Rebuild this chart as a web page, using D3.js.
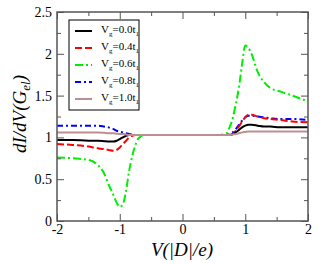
<!DOCTYPE html>
<html lang="en">
<head>
<meta charset="UTF-8">
<title>dI/dV</title>
<script src="https://cdn.jsdelivr.net/npm/d3@7"></script>
<style>
  body { margin: 0; background: #fff; }
  text { font-family: "Liberation Serif", "Times New Roman", serif; }
</style>
</head>
<body>
<script>
// bias voltage grid, in |D|/e
var xs = [-2, -1.75, -1.5, -1.35, -1.25, -1.18, -1.1, -1.05, -1.0, -0.95, -0.9, -0.85, -0.8, -0.75, -0.7, -0.6, -0.4, 0,
          0.4, 0.6, 0.7, 0.75, 0.8, 0.85, 0.9, 0.95, 1.0, 1.05, 1.1, 1.2, 1.3, 1.4, 1.55, 1.75, 2.0];

var vg00 = [0.97, 0.97, 0.96, 0.96, 0.955, 0.95, 0.95, 0.96, 0.98, 1.0, 1.02, 1.03, 1.03, 1.03, 1.03, 1.03, 1.03, 1.03,
            1.03, 1.03, 1.03, 1.03, 1.04, 1.06, 1.09, 1.12, 1.14, 1.15, 1.15, 1.14, 1.13, 1.13, 1.12, 1.12, 1.12];
var vg04 = [0.92, 0.91, 0.89, 0.87, 0.86, 0.85, 0.84, 0.85, 0.88, 0.92, 0.96, 1.0, 1.02, 1.03, 1.03, 1.03, 1.03, 1.03,
            1.03, 1.03, 1.03, 1.03, 1.04, 1.08, 1.13, 1.19, 1.24, 1.27, 1.27, 1.25, 1.23, 1.22, 1.21, 1.19, 1.18];
var vg06 = [0.76, 0.75, 0.73, 0.67, 0.57, 0.44, 0.31, 0.22, 0.17, 0.20, 0.36, 0.60, 0.78, 0.91, 0.99, 1.03, 1.03, 1.03,
            1.03, 1.03, 1.05, 1.12, 1.23, 1.40, 1.60, 1.88, 2.10, 2.07, 2.00, 1.78, 1.66, 1.59, 1.55, 1.50, 1.43];
var vg08 = [1.14, 1.14, 1.14, 1.14, 1.13, 1.12, 1.10, 1.08, 1.07, 1.06, 1.05, 1.04, 1.035, 1.03, 1.03, 1.03, 1.03, 1.03,
            1.03, 1.03, 1.03, 1.04, 1.06, 1.10, 1.15, 1.20, 1.24, 1.26, 1.26, 1.25, 1.24, 1.23, 1.22, 1.22, 1.21];
var vg10 = [1.06, 1.06, 1.06, 1.06, 1.055, 1.05, 1.05, 1.045, 1.04, 1.04, 1.035, 1.03, 1.03, 1.03, 1.03, 1.03, 1.03, 1.03,
            1.03, 1.03, 1.03, 1.03, 1.035, 1.04, 1.05, 1.06, 1.065, 1.07, 1.07, 1.07, 1.07, 1.07, 1.07, 1.07, 1.07];

var labels = ["0.0", "0.4", "0.6", "0.8", "1.0"];
var xTicks = [-2, -1, 0, 1, 2];
var yTicks = [0, 0.5, 1, 1.5, 2, 2.5];

var series = [
  { lab: labels[0], v: vg00, color: "#000000", dash: null },
  { lab: labels[1], v: vg04, color: "#ff0000", dash: "7,3" },
  { lab: labels[2], v: vg06, color: "#00ee00", dash: "8,3,2,3" },
  { lab: labels[3], v: vg08, color: "#0000ff", dash: "6,3,2,3" },
  { lab: labels[4], v: vg10, color: "#bc8f8f", dash: null }
];

var width = 324, height = 264;
var mLeft = 57, mRight = 308, mTop = 12, mBottom = 221;

var svg = d3.select("body").append("svg")
  .attr("width", width)
  .attr("height", height);

var x = d3.scaleLinear().domain([-2, 2]).range([mLeft, mRight]);
var y = d3.scaleLinear().domain([0, 2.5]).range([mBottom, mTop]);

// data lines (drawn first so the frame sits over them)
var line = d3.line()
  .x(function(d) { return x(d[0]); })
  .y(function(d) { return y(d[1]); })
  .curve(d3.curveMonotoneX);

var order = [2, 3, 1, 0, 4];
order.forEach(function(i) {
  var s = series[i];
  svg.append("path")
    .datum(xs.map(function(t, k) { return [t, s.v[k]]; }))
    .attr("d", line)
    .attr("fill", "none")
    .attr("stroke", s.color)
    .attr("stroke-width", 2)
    .attr("stroke-dasharray", s.dash);
});

// axes with inward ticks on all four sides
var axisColor = "#555";
function styleAxis(g) {
  g.select(".domain").remove();
  g.selectAll("line").attr("stroke", axisColor).attr("stroke-width", 1);
  g.selectAll("text").attr("fill", "#000").attr("font-size", 14)
    .attr("font-family", "Liberation Serif, serif");
}
var plain = function(d) { return String(d); };   // keeps the ascii hyphen

var xMinor = [-1.5, -0.5, 0.5, 1.5];
var yMinor = [0.25, 0.75, 1.25, 1.75, 2.25];

svg.append("g").attr("transform", "translate(0," + mBottom + ")")
  .call(d3.axisBottom(x).tickValues(xTicks).tickSize(-7).tickPadding(3).tickFormat(plain))
  .call(styleAxis);
svg.append("g").attr("transform", "translate(0," + mBottom + ")")
  .call(d3.axisBottom(x).tickValues(xMinor).tickSize(-4).tickFormat(""))
  .call(styleAxis);
svg.append("g").attr("transform", "translate(0," + mTop + ")")
  .call(d3.axisTop(x).tickValues(xTicks).tickSize(-7).tickFormat(""))
  .call(styleAxis);
svg.append("g").attr("transform", "translate(0," + mTop + ")")
  .call(d3.axisTop(x).tickValues(xMinor).tickSize(-4).tickFormat(""))
  .call(styleAxis);

svg.append("g").attr("transform", "translate(" + mLeft + ",0)")
  .call(d3.axisLeft(y).tickValues(yTicks).tickSize(-7).tickPadding(5).tickFormat(plain))
  .call(styleAxis);
svg.append("g").attr("transform", "translate(" + mLeft + ",0)")
  .call(d3.axisLeft(y).tickValues(yMinor).tickSize(-4).tickFormat(""))
  .call(styleAxis);
svg.append("g").attr("transform", "translate(" + mRight + ",0)")
  .call(d3.axisRight(y).tickValues(yTicks).tickSize(-7).tickFormat(""))
  .call(styleAxis);
svg.append("g").attr("transform", "translate(" + mRight + ",0)")
  .call(d3.axisRight(y).tickValues(yMinor).tickSize(-4).tickFormat(""))
  .call(styleAxis);

svg.append("rect")
  .attr("x", mLeft).attr("y", mTop)
  .attr("width", mRight - mLeft).attr("height", mBottom - mTop)
  .attr("fill", "none").attr("stroke", axisColor).attr("stroke-width", 1.5);

// axis titles
svg.append("text")
  .attr("x", 182).attr("y", 256)
  .attr("text-anchor", "middle")
  .attr("font-size", 19).attr("font-style", "italic")
  .text("V(|D|/e)");

var yt = svg.append("text")
  .attr("transform", "translate(26,114) rotate(-90)")
  .attr("text-anchor", "middle")
  .attr("font-size", 19).attr("font-style", "italic");
yt.append("tspan").text("dI/dV(G");
yt.append("tspan").attr("font-size", 13).attr("dy", 4).text("el");
yt.append("tspan").attr("dy", -4).text(")");

// legend
var lg = svg.append("g");
lg.append("rect")
  .attr("x", 69).attr("y", 20).attr("width", 70).attr("height", 90)
  .attr("fill", "#fff").attr("stroke", "#000").attr("stroke-width", 1);

series.forEach(function(s, i) {
  var ly = 31 + i * 17;
  lg.append("line")
    .attr("x1", 75).attr("x2", 92).attr("y1", ly).attr("y2", ly)
    .attr("stroke", s.color).attr("stroke-width", 2)
    .attr("stroke-dasharray", s.dash);
  var t = lg.append("text")
    .attr("x", 101).attr("y", ly + 2)
    .attr("font-size", 11);
  t.append("tspan").text("V");
  t.append("tspan").attr("font-size", 7).attr("dy", 3).text("g");
  t.append("tspan").attr("dy", -3).text("=" + s.lab + "t");
  t.append("tspan").attr("font-size", 7).attr("dy", 3).text("1");
});
</script>
</body>
</html>
